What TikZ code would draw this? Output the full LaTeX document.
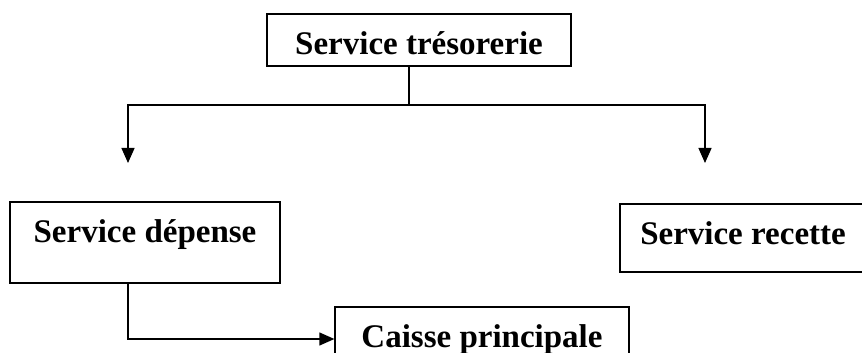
\documentclass[tikz,border=0pt]{standalone}
\usepackage{fontspec}
\setmainfont{Liberation Serif}
\usetikzlibrary{arrows.meta}

\begin{document}
\begin{tikzpicture}[x=1pt,y=1pt,line width=1.3pt,
  unit/.style = {draw,anchor=base,inner sep=0pt,text height=41pt,
                 font=\fontsize{33}{39}\selectfont\bfseries},
  tip/.style = {-{Triangle[length=15pt,width=13pt]}}]
\useasboundingbox (0,0) rectangle (862,353);
\clip (0,0) rectangle (862,353);

\node[unit,minimum width=304pt,text depth=11pt] (tres)   at (419,298) {Service trésorerie};
\node[unit,minimum width=270pt,text depth=40pt] (dep)    at (145,110) {Service dépense};
\node[unit,minimum width=246pt,text depth=27pt] (rec)    at (743,108) {Service recette};
\node[unit,minimum width=294pt,text depth=23pt] (caisse) at (482,5)   {Caisse principale};

\coordinate (fork) at (409,248);
\coordinate (l) at (128,190);
\coordinate (r) at (705,190);

\draw (fork |- tres.south) -- (fork);
\draw[tip] (fork) -| (l);
\draw[tip] (fork) -| (r);
\draw[tip] (l |- dep.south) |- (caisse.west);
\end{tikzpicture}
\end{document}
